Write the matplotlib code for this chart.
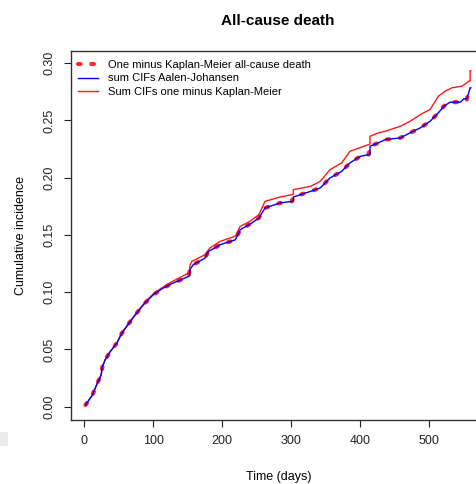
import matplotlib
matplotlib.use("Agg")
import matplotlib.pyplot as plt
from matplotlib.patches import Rectangle

plt.rcParams["font.family"] = ["Liberation Sans", "DejaVu Sans"]

# sum of CIFs, Aalen-Johansen
aj_days = [2, 12, 18, 24.6, 26.5, 30.4, 37.7, 47.4, 54.6, 65, 76, 88, 100, 112,
           125, 151, 153, 153, 158, 175, 180, 197, 219, 226, 243, 253, 262, 284,
           301, 303, 303, 328, 342, 356, 373, 385, 400, 412, 414, 414, 426, 436,
           458, 472, 487, 501, 513, 521, 530, 545, 550, 554, 557, 559, 560]
aj_cif = [0.0015, 0.0102, 0.019, 0.0277, 0.035, 0.0409, 0.048, 0.0555, 0.0642,
          0.0729, 0.0817, 0.0905, 0.0977, 0.1027, 0.107, 0.1137, 0.1145, 0.1196,
          0.124, 0.1298, 0.1356, 0.1415, 0.1458, 0.1546, 0.1605, 0.1648, 0.1736,
          0.178, 0.1794, 0.1798, 0.1832, 0.1881, 0.1911, 0.1998, 0.2056, 0.213,
          0.2187, 0.2202, 0.2205, 0.2275, 0.2304, 0.2333, 0.2348, 0.2392, 0.2436,
          0.2493, 0.2567, 0.2625, 0.266, 0.266, 0.269, 0.269, 0.2742, 0.2786,
          0.2786]

# one minus Kaplan-Meier, all-cause death
km_days = [2, 12, 18, 24.6, 26.5, 30.4, 37.7, 47.4, 54.6, 65, 76, 88, 100, 112,
           125, 151, 153, 158, 175, 180, 197, 219, 226, 243, 253, 262, 284, 301,
           303, 328, 342, 356, 373, 385, 400, 412, 414, 426, 436, 458, 472, 487,
           501, 513, 521, 530, 545, 550, 554, 557]
km_surv = [0.0015, 0.0102, 0.019, 0.0277, 0.035, 0.0409, 0.048, 0.0555, 0.0642,
           0.0729, 0.0817, 0.0905, 0.0977, 0.1027, 0.107, 0.1137, 0.1196, 0.124,
           0.1298, 0.1356, 0.1415, 0.1458, 0.1546, 0.1605, 0.1648, 0.1736, 0.178,
           0.1794, 0.1832, 0.1881, 0.1911, 0.1998, 0.2056, 0.213, 0.2187, 0.2202,
           0.2275, 0.2304, 0.2333, 0.2348, 0.2392, 0.2436, 0.2493, 0.2567, 0.2625,
           0.266, 0.266, 0.268, 0.268, 0.2755]

# sum of CIFs from one minus Kaplan-Meier
skm_days = [2, 12, 18, 24.6, 26.5, 30.4, 37.7, 47.4, 54.6, 65, 76, 88, 100, 112,
            125, 151, 153, 153, 156, 175, 182, 197, 219, 226, 240, 253, 262, 284,
            301, 303, 303, 328, 342, 356, 373, 385, 412, 414, 414, 426, 436, 458,
            472, 487, 501, 513, 523, 533, 547, 553, 557, 559, 559, 560]
skm_cif = [0.0015, 0.0102, 0.019, 0.0277, 0.035, 0.041, 0.0482, 0.0558, 0.0645,
           0.0733, 0.0822, 0.0912, 0.0985, 0.1037, 0.1085, 0.1167, 0.1175, 0.123,
           0.127, 0.1327, 0.1386, 0.1444, 0.149, 0.1575, 0.1619, 0.1677, 0.1794,
           0.1832, 0.1852, 0.1856, 0.1896, 0.1925, 0.1969, 0.207, 0.213, 0.2231,
           0.229, 0.2295, 0.2362, 0.2392, 0.2406, 0.245, 0.2493, 0.2552, 0.2596,
           0.2712, 0.2756, 0.2786, 0.28, 0.2823, 0.2844, 0.2844, 0.2935, 0.2935]

x_ticks = [0, 100, 200, 300, 400, 500]
y_ticks = [0.00, 0.05, 0.10, 0.15, 0.20, 0.25, 0.30]

fig = plt.figure(figsize=(4.76, 4.84), dpi=100)
ax = fig.add_axes([71 / 476, 1 - 420 / 484, 415 / 476, 369 / 484])

# draw order: red solid underneath, dotted KM, then blue on top
l_skm, = ax.plot(skm_days, skm_cif, color="red", lw=1, alpha=0.9)
l_km, = ax.plot(km_days, km_surv, color="red", lw=3, linestyle=(0, (0.6, 2.6)),
                dash_capstyle="round", alpha=0.85)
l_aj, = ax.plot(aj_days, aj_cif, color="blue", lw=1)

ax.set_xlim(-19, 582)
ax.set_ylim(-0.0116, 0.3107)
ax.set_xticks(x_ticks)
ax.set_yticks(y_ticks)
ax.set_yticklabels([f"{v:.2f}" for v in y_ticks], rotation=90, va="center")
ax.tick_params(length=5, width=0.8, labelsize=9, pad=6, colors="#222222")
for s in ax.spines.values():
    s.set_linewidth(1)
    s.set_color("#333333")

ax.set_xlabel("Time (days)", fontsize=9, labelpad=17)
ax.set_ylabel("Cumulative incidence", fontsize=9, labelpad=12)
fig.text(278 / 476, 1 - 21 / 484, "All-cause death", ha="center", va="center",
         fontsize=11, fontweight="bold")

ax.legend([l_km, l_aj, l_skm],
          ["One minus Kaplan-Meier all-cause death", "sum CIFs Aalen-Johansen",
           "Sum CIFs one minus Kaplan-Meier"],
          loc="upper left", bbox_to_anchor=(0.0, 0.995), frameon=False,
          fontsize=8, handlelength=1.8, handletextpad=0.85, labelspacing=0.3,
          borderaxespad=0.25)

# faint grey artefact at the lower left edge of the screenshot
fig.patches.append(Rectangle((0, 1 - 446 / 484), 8 / 476, 14 / 484,
                             transform=fig.transFigure, color="#ececec",
                             lw=0))

fig.savefig("out.png", dpi=100)
